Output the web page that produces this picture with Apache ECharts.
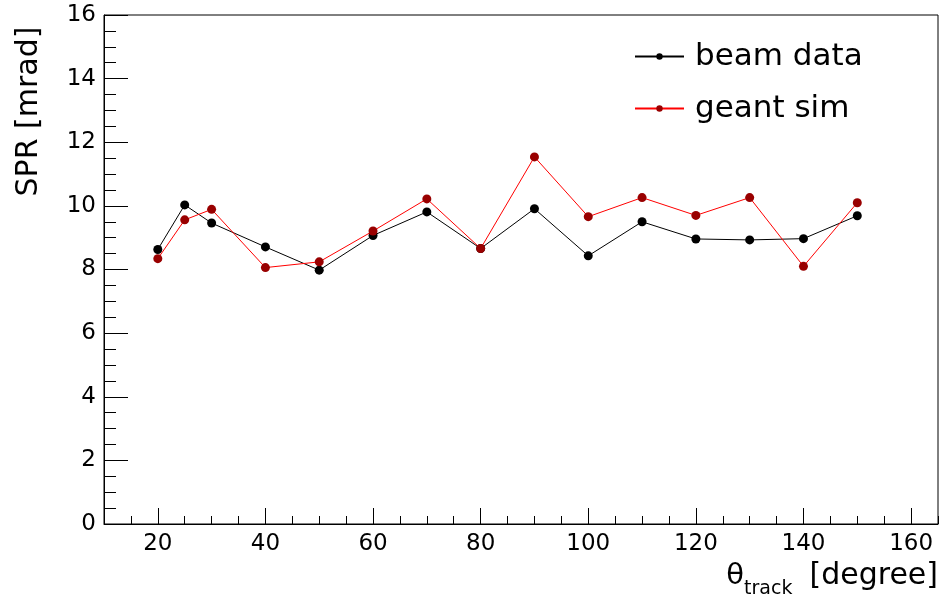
<!DOCTYPE html>
<html>
<head>
<meta charset="utf-8">
<script src="https://cdn.jsdelivr.net/npm/echarts@6/dist/echarts.min.js"></script>
<style>
html,body{margin:0;padding:0;background:#fff;}
#chart{width:939px;height:598px;}
</style>
</head>
<body>
<div id="chart"></div>
<script>
const theta = [20, 25, 30, 40, 50, 60, 70, 80, 90, 100, 110, 120, 130, 140, 150];
const beamData = [8.63, 10.03, 9.46, 8.71, 7.98, 9.07, 9.81, 8.66, 9.91, 8.43, 9.50, 8.96, 8.93, 8.97, 9.69];
const geantSim = [8.34, 9.56, 9.89, 8.06, 8.24, 9.21, 10.22, 8.66, 11.54, 9.66, 10.26, 9.70, 10.26, 8.10, 10.10];
const xMajorTicks = [20, 40, 60, 80, 100, 120, 140, 160];
const seriesNames = ['beam data', 'geant sim'];
const xTitle = '{a|θ}{b|track}{c|[degree]}';
const yTitle = 'SPR [mrad]';

const FONT = "'DejaVu Sans', 'Liberation Sans', Arial, sans-serif";
const chart = echarts.init(document.getElementById('chart'), null, {renderer: 'canvas'});

const pairs = (xs, ys) => xs.map((x, i) => [x, ys[i]]);

chart.setOption({
  animation: false,
  backgroundColor: '#fff',
  textStyle: {fontFamily: FONT, color: '#000'},
  title: {
    text: xTitle, right: 1, top: 553, padding: 0,
    textStyle: {
      fontFamily: FONT, color: '#000', fontWeight: 'normal',
      rich: {
        a: {fontSize: 29, fontFamily: FONT, color: '#000', lineHeight: 46, verticalAlign: 'middle'},
        b: {fontSize: 19, fontFamily: FONT, color: '#000', lineHeight: 46, verticalAlign: 'bottom'},
        c: {fontSize: 30, fontFamily: FONT, color: '#000', lineHeight: 46, verticalAlign: 'middle', padding: [0, 0, 0, 17]}
      }
    }
  },
  grid: {left: 104, right: 1, top: 15, bottom: 74, containLabel: false, outerBoundsMode: 'none',
         show: true, borderColor: '#000', borderWidth: 1, backgroundColor: 'transparent'},
  legend: {
    orient: 'vertical', left: 634, top: 41, padding: 0,
    itemWidth: 49, itemHeight: 8, itemGap: 21,
    textStyle: {fontFamily: FONT, fontSize: 31, color: '#000', lineHeight: 30, padding: [0, 0, 0, 6]},
    data: seriesNames
  },
  xAxis: [{
    type: 'value', min: 10, max: 165, position: 'bottom',
    axisLine: {show: true, onZero: false, lineStyle: {color: '#000', width: 1}},
    axisTick: {show: true, inside: true, length: 16, customValues: xMajorTicks, lineStyle: {color: '#000', width: 1}},
    axisLabel: {show: true, customValues: xMajorTicks, margin: 9, fontSize: 23, color: '#000', fontFamily: FONT},
    splitLine: {show: false}
  }, {
    type: 'value', min: 10, max: 165, interval: 5, position: 'bottom',
    axisLine: {show: false, onZero: false},
    axisTick: {show: true, inside: true, length: 8, lineStyle: {color: '#000', width: 1}},
    axisLabel: {show: false},
    splitLine: {show: false}
  }],
  yAxis: {
    type: 'value', min: 0, max: 16, interval: 2,
    axisLine: {show: true, onZero: false, lineStyle: {color: '#000', width: 1}},
    axisTick: {show: true, inside: true, length: 24, lineStyle: {color: '#000', width: 1}},
    minorTick: {show: true, splitNumber: 4, length: 12, lineStyle: {color: '#000', width: 1}},
    axisLabel: {margin: 8, fontSize: 23, color: '#000', fontFamily: FONT},
    splitLine: {show: false},
    name: yTitle,
    nameLocation: 'middle', nameGap: 60,
    nameTextStyle: {fontSize: 30, fontFamily: FONT, color: '#000', padding: [0, 0, 0, 316]}
  },
  series: [{
    name: seriesNames[0], type: 'line', xAxisIndex: 0,
    data: pairs(theta, beamData),
    symbol: 'circle', symbolSize: 9,
    lineStyle: {color: '#000', width: 1},
    itemStyle: {color: '#000'},
    z: 2
  }, {
    name: seriesNames[1], type: 'line', xAxisIndex: 0,
    data: pairs(theta, geantSim),
    symbol: 'circle', symbolSize: 9,
    lineStyle: {color: '#ff0000', width: 1},
    itemStyle: {color: '#990000'},
    z: 3
  }]
});
</script>
</body>
</html>
